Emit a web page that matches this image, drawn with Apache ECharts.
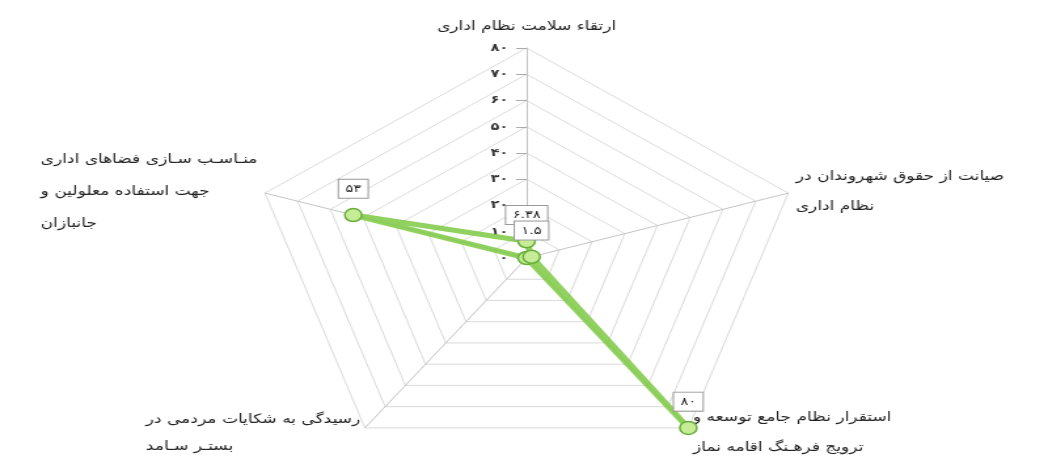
<!DOCTYPE html>
<html>
<head>
<meta charset="utf-8">
<script src="https://cdn.jsdelivr.net/npm/echarts@6/dist/echarts.min.js"></script>
<style>
  html, body { margin: 0; padding: 0; background: #fff; overflow: hidden; }
  #wrap { width: 1051px; height: 460px; overflow: hidden; }
  /* the source picture is stretched horizontally, so we stretch the canvas too */
  #main { width: 802px; height: 460px; transform: scaleX(1.31); transform-origin: 0 0; }
</style>
</head>
<body>
<div id="wrap"><div id="main"></div></div>
<script>
// echarts goes counter-clockwise, so: top, left, bottom-left, bottom-right, right
var indicatorNames = [
    'ارتقاء سلامت نظام اداری',
    'منـاسـب سـازی فضاهای اداری\nجهت استفاده معلولین و\nجانبازان',
    'رسیدگی به شکایات مردمی در\nبستـر سـامد',
    'استقرار نظام جامع توسعه و\nترویج فرهـنگ اقامه نماز',
    'صیانت از حقوق شهروندان در\nنظام اداری'
];
var maxValue = 80;
var values = [6.38, 53, 0, 80, 1.5];

// persian digits
function fa(v) {
    return String(v).replace(/[0-9]/g, function (d) { return '۰۱۲۳۴۵۶۷۸۹'[+d]; });
}

var indicators = [];
for (var i = 0; i < indicatorNames.length; i++) {
    var ind = { name: indicatorNames[i], max: maxValue, min: 0 };
    if (i == 0) {
        ind.axisLabel = { show: true };
        ind.axisTick = { show: true };
    }
    indicators.push(ind);
}

var myChart = echarts.init(document.getElementById('main'));
myChart.setOption({
    animation: false,
    radar: {
        center: [402, 258],
        radius: 210,
        startAngle: 90,
        splitNumber: 8,
        shape: 'polygon',
        nameGap: 6,
        indicator: indicators,
        axisName: {
            color: '#222',
            fontFamily: 'DejaVu Sans',
            fontSize: 13,
            formatter: function (name, ind) {
                var lines = name.split('\n');
                var idx = indicatorNames.indexOf(name);
                var tok = (idx == 1 || idx == 2) ? 'l' + idx : 'n';
                return lines.map(function (l) { return '{' + tok + '|' + l + '}'; }).join('\n');
            },
            rich: {
                n: { fontFamily: 'DejaVu Sans', fontSize: 13, color: '#222', lineHeight: 30 },
                l1: { fontFamily: 'DejaVu Sans', fontSize: 13, color: '#222', lineHeight: 32, align: 'left' },
                l2: { fontFamily: 'DejaVu Sans', fontSize: 13, color: '#222', lineHeight: 27, align: 'left' }
            }
        },
        axisLabel: {
            show: false,
            color: '#333',
            fontFamily: 'DejaVu Sans',
            fontSize: 11,
            fontWeight: 'bold',
            margin: 14,
            formatter: function (v) { return fa(v); }
        },
        axisTick: { show: false, length: 8, lineStyle: { color: '#aaa' } },
        axisLine: { lineStyle: { color: '#c4c4c4' } },
        splitLine: { lineStyle: { color: '#dadada' } },
        splitArea: { show: false }
    },
    series: [{
        type: 'radar',
        symbol: 'circle',
        symbolSize: 13,
        lineStyle: { color: '#7cc943', width: 5, opacity: 0.85 },
        itemStyle: { color: '#c6ec98', borderColor: '#6aaf3c', borderWidth: 1.5 },
        label: {
            show: true,
            position: 'top',
            distance: 10,
            formatter: function (p) {
                var v = values[p.dimensionIndex];
                if (!v) return '';
                return '{b|' + fa(v) + '}';
            },
            rich: {
                b: {
                    fontFamily: 'DejaVu Sans', fontSize: 11, color: '#222',
                    backgroundColor: '#fff', borderColor: '#999', borderWidth: 1,
                    padding: [4, 5, 3, 5]
                }
            }
        },
        data: [{ value: values }]
    }]
});
</script>
</body>
</html>
